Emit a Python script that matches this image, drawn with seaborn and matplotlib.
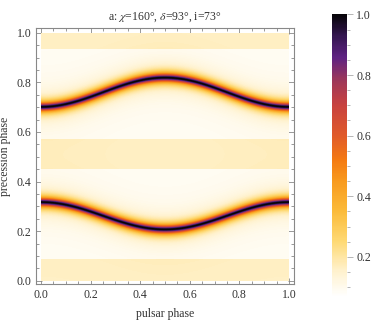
import numpy as np
import matplotlib
matplotlib.use("Agg")
import matplotlib.pyplot as plt
from matplotlib.colors import LinearSegmentedColormap
import seaborn as sns

# values
title = r"a: $\chi$=160°, $\delta$=93°, i=73°"
upper_track = {"mid": 0.761, "amp": 0.059}   # precession phase of upper track, cos(2*pi*x) shape, minimum at x=0
lower_track = {"mid": 0.263, "amp": 0.055}   # lower track, maximum at x=0
track_width = 0.0155
bands = [(0.0, 0.0875), (0.452, 0.571), (0.937, 1.0)]
base_level = 0.085
band_level = 0.16
vmin, vmax = 0.068, 1.0

cbar_stops = [0.068, 0.15, 0.25, 0.35, 0.45, 0.52, 0.60, 0.70, 0.78, 0.86, 0.93, 1.0]
cbar_colors = ["#ffffff", "#fff2cf", "#fed974", "#fbbb3a", "#f89a1e", "#f47a12",
               "#e05a2a", "#c8423f", "#a03858", "#5e2282", "#341650", "#060408"]

nx, ny = 248, 248
x = (np.arange(nx) + 0.5) / nx
y = (np.arange(ny) + 0.5) / ny
X, Y = np.meshgrid(x, y)

Z = np.full(X.shape, base_level)
for lo, hi in bands:
    Z[(Y >= lo) & (Y <= hi)] = band_level

yc_up = upper_track["mid"] - upper_track["amp"] * np.cos(2 * np.pi * X)
yc_lo = lower_track["mid"] + lower_track["amp"] * np.cos(2 * np.pi * X)
for yc in (yc_up, yc_lo):
    prof = 1.0 / (1.0 + ((Y - yc) / track_width) ** 2)
    Z = Z + (1.0 - Z) * prof

pos = [(s - vmin) / (vmax - vmin) for s in cbar_stops]
cmap = LinearSegmentedColormap.from_list("sunset_r", list(zip(pos, cbar_colors)))

sns.set_style("white")
plt.rcParams["font.family"] = ["Liberation Serif", "DejaVu Serif"]
plt.rcParams["mathtext.fontset"] = "stix"

fig = plt.figure(figsize=(3.74, 3.27), dpi=100)
ax = fig.add_axes([0.0955, 0.130, 0.6906, 0.785])
cax = fig.add_axes([0.888, 0.092, 0.039, 0.864])

sns.heatmap(Z, ax=ax, cmap=cmap, vmin=vmin, vmax=vmax, cbar_ax=cax,
            xticklabels=False, yticklabels=False, rasterized=True)

ax.set_xlim(-0.021 * nx, 1.02 * nx)
ax.set_ylim(-0.015 * ny, 1.02 * ny)
for s in ax.spines.values():
    s.set_visible(True)
    s.set_color("#888888")
    s.set_linewidth(0.8)

major = np.arange(0, 1.01, 0.2)
minor = np.arange(0, 1.001, 0.05)
ax.set_xticks(major * nx)
ax.set_xticklabels([f"{v:.1f}" for v in major])
ax.set_xticks(minor * nx, minor=True)
ax.set_yticks(major * ny)
ax.set_yticklabels([f"{v:.1f}" for v in major], rotation=0)
ax.set_yticks(minor * ny, minor=True)
ax.tick_params(which="both", direction="in", top=True, right=True, bottom=True, left=True,
               color="#888888", width=0.6, labelsize=8.5, labelcolor="#333333", pad=3)
ax.tick_params(which="major", length=4)
ax.tick_params(which="minor", length=2)

ax.set_xlabel("pulsar phase", fontsize=8.5, color="#333333", labelpad=5)
ax.set_ylabel("precession phase", fontsize=8.5, color="#333333", labelpad=4)
ax.set_title(title, fontsize=8.5, color="#333333", pad=6)

cax.set_yticks(np.arange(0.2, 1.01, 0.2))
cax.set_yticklabels([f"{v:.1f}" for v in np.arange(0.2, 1.01, 0.2)])
cax.set_yticks(np.arange(0.1, 1.001, 0.05), minor=True)
cax.tick_params(which="both", direction="out", right=True, color="#aaaaaa", width=0.6,
                labelsize=8.5, labelcolor="#333333", pad=3)
cax.tick_params(which="major", length=4)
cax.tick_params(which="minor", length=2)

fig.savefig("out.png", dpi=100)
